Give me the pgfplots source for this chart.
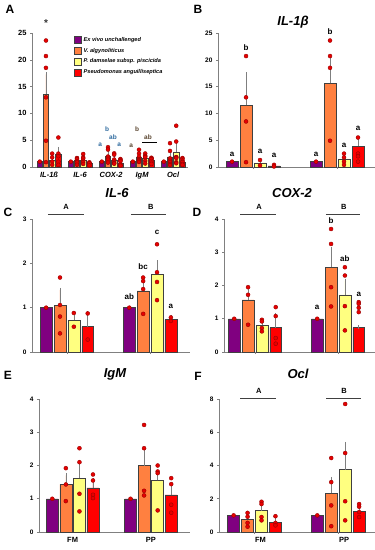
\documentclass[border=0pt]{standalone}
\usepackage{pgfplots}
\pgfplotsset{compat=1.18}
\usepackage{fontspec}
\setmainfont{Liberation Sans}
\definecolor{cpur}{HTML}{800080}
\definecolor{cora}{HTML}{FF8040}
\definecolor{cyel}{HTML}{FFFF80}
\definecolor{cred}{HTML}{FF0000}
\definecolor{bargray}{HTML}{404040}
\definecolor{axgray}{HTML}{808080}
\definecolor{errgray}{HTML}{7F7F7F}
\definecolor{dotred}{HTML}{E60000}
\definecolor{dotedge}{HTML}{990000}
\definecolor{sigblue}{HTML}{2E6A9E}
\definecolor{sigbrown}{HTML}{5A4530}
\newcommand\fs[1]{\fontsize{#1}{#1}\selectfont}
\tikzset{sig/.style={font=\bfseries\fs{8}}, siga/.style={font=\bfseries\fs{6.5}}}
\pgfplotsset{
 panel/.style={scale only axis, clip=false, ymin=0,
   axis x line*=bottom, axis y line*=left,
   axis line style={draw=axgray, line width=0.8pt, -},
   every tick/.style={draw=axgray, line width=0.6pt},
   tick align=outside, major tick length=2pt,
   ticklabel style={font=\bfseries\fs{6.5}},
   /pgf/number format/assume math mode=true,
   xtick={0,1}, xticklabels={},
 },
 bp/.style={ybar, bar shift=0pt, bar width=#1, draw=bargray, line width=0.5pt},
 eb/.style={error bars/.cd, y dir=plus, y explicit,
   error bar style={draw=errgray, line width=0.6pt},
   error mark options={draw=errgray, mark size=2pt, line width=0.6pt}},
 pts/.style={only marks, mark=*, mark size=2pt, mark options={fill=dotred, draw=dotedge, line width=0.4pt}},
}
\begin{document}
\begin{tikzpicture}
\useasboundingbox (0,0) rectangle (375pt,-550pt);
% ---------------- Panel A
\begin{axis}[panel, at={(32pt,-167pt)}, anchor=south west, width=156pt, height=134pt,
  xmin=-0.55, xmax=4.48, ymax=25, ytick={0,5,...,25},
  xtick={0,1,2,3,4}, xticklabels={IL-1ß,IL-6,COX-2,IgM,Ocl},
  x tick style={draw=none},
  xticklabel style={font=\bfseries\itshape\fs{7.5}},
  yticklabel style={font=\bfseries\fs{7.5}},
  legend cell align=left,
  legend image code/.code={\draw[#1] (0pt,-3.5pt) rectangle (7pt,3.5pt);},
  legend style={at={(0.27,0.985)}, anchor=north west, draw=none, fill=none,
    font=\bfseries\itshape\fs{5.6}, row sep=1.2pt, inner sep=0pt}]
\addlegendimage{fill=cpur, draw=bargray}\addlegendentry{Ex vivo unchallenged}
\addlegendimage{fill=cora, draw=bargray}\addlegendentry{V. algynoliticus}
\addlegendimage{fill=cyel, draw=bargray}\addlegendentry{P. damselae subsp. piscicida}
\addlegendimage{fill=cred, draw=bargray}\addlegendentry{Pseudomonas anguilliseptica}
\addplot[bp=0.17, fill=cpur] coordinates {(-0.3,1) (0.7,1) (1.7,1) (2.7,1) (3.7,1)};
\addplot[bp=0.17, fill=cora, eb] coordinates {(-0.1,13.6) +- (0,3.7) (0.9,1.2) +- (0,0.25) (1.9,2.1) +- (0,0.6) (2.9,1.75) +- (0,0.45) (3.9,1.9) +- (0,0.5)};
\addplot[bp=0.17, fill=cyel, eb] coordinates {(0.1,1.25) +- (0,0.5) (1.1,1.25) +- (0,0.25) (2.1,1.3) +- (0,0.4) (3.1,1.6) +- (0,0.3) (4.1,2.8) +- (0,1.2)};
\addplot[bp=0.17, fill=cred, eb] coordinates {(0.3,2.35) +- (0,1.05) (1.3,0.65) +- (0,0.15) (2.3,0.75) +- (0,0.25) (3.3,1.25) +- (0,0.2) (4.3,0.95) +- (0,0.25)};
\addplot[pts] coordinates {(-0.3,1) (0.7,1) (1.7,1) (2.7,1) (3.7,1)
 (-0.1,23.6) (-0.1,20.7) (-0.1,18.5) (-0.1,13.0) (-0.1,4.9) (-0.1,0.9)
 (0.1,2.5) (0.1,1.8) (0.1,1.0) (0.1,0.4)
 (0.3,5.5) (0.3,2.5) (0.3,2.0) (0.3,1.0) (0.3,0.4)
 (0.9,1.68) (0.9,1.6) (0.9,1.42) (0.9,1.06) (0.9,0.86) (0.9,0.42)
 (1.1,2.43) (1.1,1.8) (1.1,1.58) (1.1,1.17) (1.1,0.88) (1.1,0.57)
 (1.3,0.87) (1.3,0.78) (1.3,0.7) (1.3,0.28)
 (1.9,3.7) (1.9,3.25) (1.9,1.95) (1.9,1.72) (1.9,1.37) (1.9,0.82)
 (2.1,2.55) (2.1,2.3) (2.1,1.38) (2.1,0.97) (2.1,0.72) (2.1,0.62)
 (2.3,1.5) (2.3,1.35) (2.3,1.2) (2.3,1.08) (2.3,0.42) (2.3,0.25)
 (2.9,3.22) (2.9,2.52) (2.9,1.92) (2.9,1.43) (2.9,1.24) (2.9,1.1) (2.9,0.93)
 (3.1,2.52) (3.1,2.1) (3.1,2.0) (3.1,1.82) (3.1,1.15) (3.1,0.65)
 (3.3,1.73) (3.3,1.62) (3.3,1.55) (3.3,1.44) (3.3,1.12) (3.3,0.82) (3.3,0.58)
 (3.9,4.45) (3.9,3.0) (3.9,1.6) (3.9,1.15) (3.9,0.92) (3.9,0.55) (3.9,0.35)
 (4.1,7.7) (4.1,4.75) (4.1,1.85) (4.1,1.82) (4.1,1.68) (4.1,0.9) (4.1,0.7)
 (4.3,1.68) (4.3,1.52) (4.3,1.2) (4.3,0.95) (4.3,0.9) (4.3,0.55) (4.3,0.4)};
\node[font=\bfseries\fs{10}, text=black!80] at (axis cs:-0.1,26.8) {*};
\node[siga, text=sigblue] at (axis cs:1.65,4.1) {a};
\node[siga, text=sigblue] at (axis cs:1.87,7.0) {b};
\node[siga, text=sigblue] at (axis cs:2.06,5.6) {ab};
\node[siga, text=sigblue] at (axis cs:2.26,4.2) {a};
\node[siga, text=sigbrown] at (axis cs:2.65,4.0) {a};
\node[siga, text=sigbrown] at (axis cs:2.84,7.0) {b};
\node[siga, text=sigbrown] at (axis cs:3.19,5.6) {ab};
\draw[line width=0.8pt] (axis cs:3.0,4.66) -- (axis cs:3.48,4.66);
\end{axis}
% ---------------- Panel B
\begin{axis}[panel, at={(218pt,-167pt)}, anchor=south west, width=157pt, height=134pt,
  xmin=-0.417, xmax=1.452, ymax=25, ytick={0,5,...,25}]
\addplot[bp=0.143, fill=cpur] coordinates {(-0.25,1) (0.75,1)};
\addplot[bp=0.143, fill=cora, eb] coordinates {(-0.0833,11.5) +- (0,5.8) (0.9167,15.6) +- (0,5.2)};
\addplot[bp=0.143, fill=cyel, eb] coordinates {(0.0833,0.75) +- (0,0.5) (1.0833,1.5) +- (0,0.9)};
\addplot[bp=0.143, fill=cred, eb] coordinates {(0.25,0.2) +- (0,0.1) (1.25,3.9) +- (0,1.6)};
\addplot[pts] coordinates {(-0.25,1) (0.75,1)
 (-0.0833,20.7) (-0.0833,13.0) (-0.0833,8.5) (-0.0833,0.9)
 (0.9167,23.6) (0.9167,20.7) (0.9167,18.5) (0.9167,4.9)
 (0.0833,1.3) (0.0833,0.3) (1.0833,2.5) (1.0833,1.8) (1.0833,1.0) (1.0833,0.4)
 (0.25,0.4) (0.25,0.1) (1.25,5.5) (1.25,2.5) (1.25,2.0) (1.25,1.0)};
\node[sig] at (axis cs:-0.25,2.4) {a};
\node[sig] at (axis cs:-0.0833,22.2) {b};
\node[sig] at (axis cs:0.0833,3.0) {a};
\node[sig] at (axis cs:0.25,2.2) {a};
\node[sig] at (axis cs:0.75,2.4) {a};
\node[sig] at (axis cs:0.9167,25.2) {b};
\node[sig] at (axis cs:1.0833,4.0) {a};
\node[sig] at (axis cs:1.25,7.15) {a};
\end{axis}
% ---------------- Panel C
\begin{axis}[panel, at={(32pt,-352pt)}, anchor=south west, width=158pt, height=133pt,
  xmin=-0.42, xmax=1.48, ymax=3, ytick={0,1,2,3}]
\addplot[bp=0.143, fill=cpur] coordinates {(-0.25,1) (0.75,1)};
\addplot[bp=0.143, fill=cora, eb] coordinates {(-0.0833,1.05) +- (0,0.35) (0.9167,1.38) +- (0,0.22)};
\addplot[bp=0.143, fill=cyel, eb] coordinates {(0.0833,0.72) +- (0,0.15) (1.0833,1.75) +- (0,0.28)};
\addplot[bp=0.143, fill=cred, eb] coordinates {(0.25,0.57) +- (0,0.3) (1.25,0.73) +- (0,0.05)};
\addplot[pts] coordinates {(-0.25,1) (0.75,1)
 (-0.0833,1.68) (-0.0833,1.06) (-0.0833,0.8) (-0.0833,0.42)
 (0.9167,1.68) (0.9167,1.6) (0.9167,1.42) (0.9167,0.86)
 (0.0833,0.88) (0.0833,0.57) (1.0833,2.43) (1.0833,1.8) (1.0833,1.58) (1.0833,1.17)
 (0.25,0.87) (0.25,0.28) (1.25,0.78) (1.25,0.7)};
\node[sig] at (axis cs:0.75,1.24) {ab};
\node[sig] at (axis cs:0.9167,1.93) {bc};
\node[sig] at (axis cs:1.0833,2.69) {c};
\node[sig] at (axis cs:1.25,1.03) {a};
\draw[line width=0.8pt, bargray] (axis cs:-0.23,3.105) -- (axis cs:0.21,3.105);
\draw[line width=0.8pt, bargray] (axis cs:0.77,3.105) -- (axis cs:1.19,3.105);
\node[font=\bfseries\fs{7.5}] at (axis cs:-0.01,3.27) {A};
\node[font=\bfseries\fs{7.5}] at (axis cs:1.01,3.27) {B};
\end{axis}
% ---------------- Panel D
\begin{axis}[panel, at={(224pt,-352pt)}, anchor=south west, width=151pt, height=133pt,
  xmin=-0.373, xmax=1.446, ymax=4, ytick={0,1,2,3,4}]
\addplot[bp=0.143, fill=cpur] coordinates {(-0.25,1) (0.75,1)};
\addplot[bp=0.143, fill=cora, eb] coordinates {(-0.0833,1.57) +- (0,0.3) (0.9167,2.55) +- (0,0.55)};
\addplot[bp=0.143, fill=cyel, eb] coordinates {(0.0833,0.8) +- (0,0.15) (1.0833,1.72) +- (0,0.43)};
\addplot[bp=0.143, fill=cred, eb] coordinates {(0.25,0.73) +- (0,0.37) (1.25,0.73) +- (0,0.02)};
\addplot[pts] coordinates {(-0.25,1) (0.75,1)
 (-0.0833,1.95) (-0.0833,1.72) (-0.0833,0.82)
 (0.9167,3.7) (0.9167,3.25) (0.9167,1.95) (0.9167,1.37)
 (0.0833,0.97) (0.0833,0.92) (0.0833,0.72) (0.0833,0.62)
 (1.0833,2.55) (1.0833,2.3) (1.0833,1.38) (1.0833,0.65)
 (0.25,1.35) (0.25,1.08) (0.25,0.42) (0.25,0.25)
 (1.25,1.5) (1.25,1.45) (1.25,1.33) (1.25,1.2)};
\node[sig] at (axis cs:0.75,1.34) {a};
\node[sig] at (axis cs:0.9167,3.94) {b};
\node[sig] at (axis cs:1.0833,2.8) {ab};
\node[sig] at (axis cs:1.25,1.74) {a};
\draw[line width=0.8pt, bargray] (axis cs:-0.18,4.14) -- (axis cs:0.25,4.14);
\draw[line width=0.8pt, bargray] (axis cs:0.855,4.14) -- (axis cs:1.27,4.14);
\node[font=\bfseries\fs{7.5}] at (axis cs:0.05,4.35) {A};
\node[font=\bfseries\fs{7.5}] at (axis cs:1.07,4.35) {B};
\end{axis}
% ---------------- Panel E
\begin{axis}[panel, at={(39pt,-532pt)}, anchor=south west, width=151pt, height=133pt,
  xmin=-0.43, xmax=1.5, ymax=4, ytick={0,1,2,3,4},
  xticklabels={FM,PP}, xticklabel style={font=\bfseries\fs{7.5}}, x tick style={draw=none}]
\addplot[bp=0.153, fill=cpur] coordinates {(-0.26,1) (0.74,1)};
\addplot[bp=0.153, fill=cora, eb] coordinates {(-0.087,1.43) +- (0,0.27) (0.913,2.0) +- (0,0.5)};
\addplot[bp=0.153, fill=cyel, eb] coordinates {(0.087,1.62) +- (0,0.48) (1.087,1.55) +- (0,0.25)};
\addplot[bp=0.153, fill=cred, eb] coordinates {(0.26,1.33) +- (0,0.22) (1.26,1.12) +- (0,0.3)};
\addplot[pts] coordinates {(-0.26,1) (0.74,1)
 (-0.087,1.92) (-0.087,1.43) (-0.087,0.93)
 (0.913,3.22) (0.913,2.52) (0.913,1.24) (0.913,1.1)
 (0.087,2.52) (0.087,2.1) (0.087,1.15) (0.087,0.62)
 (1.087,2.0) (1.087,1.82) (1.087,1.77) (1.087,0.65)
 (0.26,1.73) (0.26,1.55) (0.26,1.12) (0.26,1.02)
 (1.26,1.62) (1.26,1.44) (1.26,0.82) (1.26,0.58)};
\end{axis}
% ---------------- Panel F
\begin{axis}[panel, at={(219pt,-532pt)}, anchor=south west, width=156pt, height=133pt,
  xmin=-0.425, xmax=1.44, ymax=8, ytick={0,2,4,6,8},
  xticklabels={FM,PP}, xticklabel style={font=\bfseries\fs{7.5}, xshift=6pt}]
\addplot[bp=0.143, fill=cpur] coordinates {(-0.25,1) (0.75,1)};
\addplot[bp=0.143, fill=cora, eb] coordinates {(-0.0833,0.78) +- (0,0.2) (0.9167,2.33) +- (0,0.87)};
\addplot[bp=0.143, fill=cyel, eb] coordinates {(0.0833,1.28) +- (0,0.47) (1.0833,3.75) +- (0,1.55)};
\addplot[bp=0.143, fill=cred, eb] coordinates {(0.25,0.6) +- (0,0.3) (1.25,1.25) +- (0,0.3)};
\addplot[pts] coordinates {(-0.25,1) (0.75,1)
 (-0.0833,1.15) (-0.0833,0.92) (-0.0833,0.55) (-0.0833,0.32)
 (0.9167,4.45) (0.9167,3.0) (0.9167,1.6) (0.9167,0.35)
 (0.0833,1.82) (0.0833,1.68) (0.0833,0.9) (0.0833,0.7)
 (1.0833,7.7) (1.0833,4.75) (1.0833,1.85) (1.0833,0.7)
 (0.25,0.95) (0.25,0.55) (0.25,0.4)
 (1.25,1.68) (1.25,1.52) (1.25,1.2) (1.25,0.9)};
\draw[line width=0.8pt, bargray] (axis cs:-0.17,8.04) -- (axis cs:0.26,8.04);
\draw[line width=0.8pt, bargray] (axis cs:0.855,8.04) -- (axis cs:1.27,8.04);
\node[font=\bfseries\fs{7.5}] at (axis cs:0.05,8.48) {A};
\node[font=\bfseries\fs{7.5}] at (axis cs:1.07,8.48) {B};
\end{axis}
% ---------------- Titles and panel letters
\node[font=\bfseries\fs{12}] at (10pt,-9pt) {A};
\node[font=\bfseries\fs{12}] at (198pt,-9pt) {B};
\node[font=\bfseries\fs{12}] at (8pt,-212pt) {C};
\node[font=\bfseries\fs{12}] at (197pt,-212pt) {D};
\node[font=\bfseries\fs{12}] at (8pt,-375pt) {E};
\node[font=\bfseries\fs{12}] at (198pt,-376pt) {F};
\node[font=\bfseries\itshape\fs{13}] at (293pt,-22pt) {IL-1β};
\node[font=\bfseries\itshape\fs{13}] at (117pt,-193pt) {IL-6};
\node[font=\bfseries\itshape\fs{13}] at (292pt,-193pt) {COX-2};
\node[font=\bfseries\itshape\fs{13}] at (115pt,-374pt) {IgM};
\node[font=\bfseries\itshape\fs{13}] at (298pt,-374pt) {Ocl};
\end{tikzpicture}
\end{document}
